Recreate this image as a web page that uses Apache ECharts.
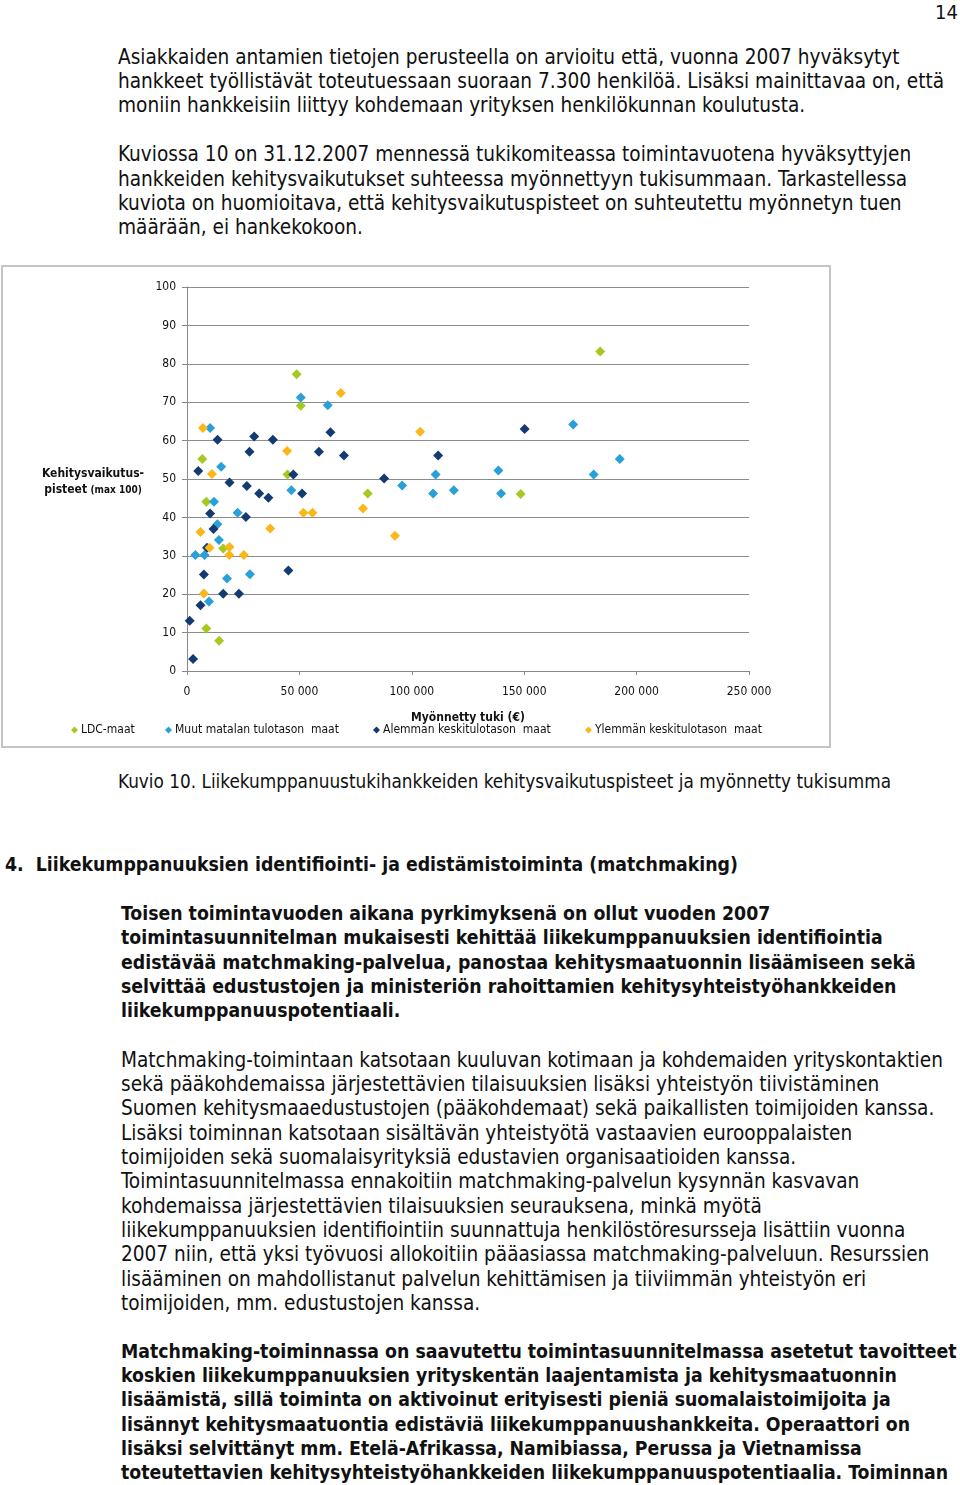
<!DOCTYPE html>
<html><head><meta charset="utf-8">
<script src="https://cdn.jsdelivr.net/npm/echarts@6/dist/echarts.min.js"></script>
<style>
html,body{margin:0;padding:0;background:#fff;}
body{width:960px;height:1485px;position:relative;overflow:hidden;font-family:"DejaVu Sans Condensed","DejaVu Sans",sans-serif;font-stretch:condensed;color:#111;}
.l{position:absolute;white-space:nowrap;font-size:20.6px;line-height:24px;}
.b{font-weight:bold;font-size:19.3px;}
.c{font-size:18.8px;}
#chart{position:absolute;left:1px;top:265px;width:830px;height:483px;box-sizing:border-box;border:2px solid #c4c4c4;}
</style></head><body>
<div class="l" style="left:935px;top:0px;font-size:20px;">14</div>

<div class="l" style="left:118px;top:45px;">Asiakkaiden antamien tietojen perusteella on arvioitu että, vuonna 2007 hyväksytyt</div>
<div class="l" style="left:118px;top:69px;">hankkeet työllistävät toteutuessaan suoraan 7.300 henkilöä. Lisäksi mainittavaa on, että</div>
<div class="l" style="left:118px;top:93px;">moniin hankkeisiin liittyy kohdemaan yrityksen henkilökunnan koulutusta.</div>

<div class="l" style="left:118px;top:142px;">Kuviossa 10 on 31.12.2007 mennessä tukikomiteassa toimintavuotena hyväksyttyjen</div>
<div class="l" style="left:118px;top:167px;">hankkeiden kehitysvaikutukset suhteessa myönnettyyn tukisummaan. Tarkastellessa</div>
<div class="l" style="left:118px;top:191px;">kuviota on huomioitava, että kehitysvaikutuspisteet on suhteutettu myönnetyn tuen</div>
<div class="l" style="left:118px;top:215px;">määrään, ei hankekokoon.</div>

<div id="chart"></div>

<div class="l c" style="left:118px;top:770px;">Kuvio 10. Liikekumppanuustukihankkeiden kehitysvaikutuspisteet ja myönnetty tukisumma</div>

<div class="l b" style="left:5px;top:853px;">4.&nbsp;&nbsp;Liikekumppanuuksien identifiointi- ja edistämistoiminta (matchmaking)</div>

<div class="l b" style="left:121px;top:902px;">Toisen toimintavuoden aikana pyrkimyksenä on ollut vuoden 2007</div>
<div class="l b" style="left:121px;top:926px;">toimintasuunnitelman mukaisesti kehittää liikekumppanuuksien identifiointia</div>
<div class="l b" style="left:121px;top:951px;">edistävää matchmaking-palvelua, panostaa kehitysmaatuonnin lisäämiseen sekä</div>
<div class="l b" style="left:121px;top:975px;">selvittää edustustojen ja ministeriön rahoittamien kehitysyhteistyöhankkeiden</div>
<div class="l b" style="left:121px;top:999px;">liikekumppanuuspotentiaali.</div>

<div class="l" style="left:121px;top:1048px;">Matchmaking-toimintaan katsotaan kuuluvan kotimaan ja kohdemaiden yrityskontaktien</div>
<div class="l" style="left:121px;top:1072px;">sekä pääkohdemaissa järjestettävien tilaisuuksien lisäksi yhteistyön tiivistäminen</div>
<div class="l" style="left:121px;top:1096px;">Suomen kehitysmaaedustustojen (pääkohdemaat) sekä paikallisten toimijoiden kanssa.</div>
<div class="l" style="left:121px;top:1121px;">Lisäksi toiminnan katsotaan sisältävän yhteistyötä vastaavien eurooppalaisten</div>
<div class="l" style="left:121px;top:1145px;">toimijoiden sekä suomalaisyrityksiä edustavien organisaatioiden kanssa.</div>
<div class="l" style="left:121px;top:1169px;">Toimintasuunnitelmassa ennakoitiin matchmaking-palvelun kysynnän kasvavan</div>
<div class="l" style="left:121px;top:1194px;">kohdemaissa järjestettävien tilaisuuksien seurauksena, minkä myötä</div>
<div class="l" style="left:121px;top:1218px;">liikekumppanuuksien identifiointiin suunnattuja henkilöstöresursseja lisättiin vuonna</div>
<div class="l" style="left:121px;top:1242px;">2007 niin, että yksi työvuosi allokoitiin pääasiassa matchmaking-palveluun. Resurssien</div>
<div class="l" style="left:121px;top:1267px;">lisääminen on mahdollistanut palvelun kehittämisen ja tiiviimmän yhteistyön eri</div>
<div class="l" style="left:121px;top:1291px;">toimijoiden, mm. edustustojen kanssa.</div>

<div class="l b" style="left:121px;top:1340px;">Matchmaking-toiminnassa on saavutettu toimintasuunnitelmassa asetetut tavoitteet</div>
<div class="l b" style="left:121px;top:1364px;">koskien liikekumppanuuksien yrityskentän laajentamista ja kehitysmaatuonnin</div>
<div class="l b" style="left:121px;top:1388px;">lisäämistä, sillä toiminta on aktivoinut erityisesti pieniä suomalaistoimijoita ja</div>
<div class="l b" style="left:121px;top:1413px;">lisännyt kehitysmaatuontia edistäviä liikekumppanuushankkeita. Operaattori on</div>
<div class="l b" style="left:121px;top:1437px;">lisäksi selvittänyt mm. Etelä-Afrikassa, Namibiassa, Perussa ja Vietnamissa</div>
<div class="l b" style="left:121px;top:1461px;">toteutettavien kehitysyhteistyöhankkeiden liikekumppanuuspotentiaalia. Toiminnan</div>

<script>
const seriesNames = ["LDC-maat", "Muut matalan tulotason  maat", "Alemman keskitulotason  maat", "Ylemmän keskitulotason  maat"];
const ldc = [[48800,77.3],[50600,69.1],[6800,55.2],[44700,51.2],[8600,44.1],[80400,46.2],[16100,31.9],[8600,11.1],[14300,7.9],[183800,83.2],[148400,46.1]];
const muutMatalan = [[50600,71.2],[62600,69.2],[10300,63.3],[15200,53.2],[46400,47.1],[12000,44.1],[22500,41.2],[13500,38.2],[14200,34.1],[3700,30.2],[7800,30.2],[17800,24.1],[28000,25.2],[9800,18.1],[171800,64.2],[192500,55.2],[110600,51.2],[138500,52.2],[180900,51.2],[95700,48.3],[109500,46.2],[118700,47.1],[139700,46.2]];
const alemman = [[13600,60.2],[29900,61.1],[38200,60.2],[63800,62.2],[27800,57.1],[58700,57.1],[69800,56.1],[5000,52.1],[47300,51.2],[18900,49.1],[26600,48.2],[32100,46.2],[36200,45.1],[51200,46.2],[10300,41.0],[26200,40.1],[11800,37.0],[8900,32.1],[7500,25.1],[45100,26.2],[16100,20.1],[23100,20.1],[6000,17.1],[1200,13.1],[2700,3.1],[150200,63.0],[111700,56.1],[87700,50.1]];
const ylemman = [[68400,72.4],[7100,63.3],[44500,57.3],[11100,51.3],[51800,41.2],[55800,41.2],[78300,42.3],[6000,36.2],[37000,37.1],[10000,32.1],[18900,32.3],[18800,30.2],[25300,30.2],[7500,20.2],[103700,62.3],[92500,35.2]];
const colors = ["#a6c823", "#2a9fd8", "#143a72", "#fbb61a"];
const xTitle = "Myönnetty tuki (€)";
const yTitle1 = "Kehitysvaikutus-";
const yTitle2 = "pisteet";
const yTitle3 = "(max 100)";

const FF = '"DejaVu Sans Condensed","DejaVu Sans",sans-serif';
const chart = echarts.init(document.getElementById('chart'), null, {renderer:'canvas'});
const datas = [ldc, muutMatalan, alemman, ylemman];
const legendLefts = [63, 157, 365, 577];
chart.setOption({
  animation:false,
  textStyle:{fontFamily:FF},
  grid:{left:184, top:20, width:562, height:384},
  xAxis:{type:'value', min:0, max:250000, interval:50000,
    name:xTitle, nameLocation:'middle', nameGap:41,
    nameTextStyle:{fontFamily:FF, fontWeight:'bold', fontSize:12, color:'#111'},
    axisLine:{show:true, lineStyle:{color:'#888', width:1}},
    axisTick:{show:true, length:4, lineStyle:{color:'#888'}},
    axisLabel:{margin:15, fontSize:12, color:'#111', fontFamily:FF,
      formatter:v=> v===0 ? '0' : (v/1000)+' 000'},
    splitLine:{show:false}},
  yAxis:{type:'value', min:0, max:100, interval:10,
    axisLine:{show:true, lineStyle:{color:'#888', width:1}},
    axisTick:{show:true, length:5, lineStyle:{color:'#888'}},
    axisLabel:{margin:11, fontSize:12, color:'#111', fontFamily:FF},
    splitLine:{show:true, lineStyle:{color:'#8c8c8c', width:1}}},
  graphic:[
    {type:'text', position:[90,207], style:{text:yTitle1, fontFamily:FF, fontWeight:'bold', fontSize:12, fill:'#111', textAlign:'center', textVerticalAlign:'middle'}},
    {type:'text', position:[90,223], style:{text:'{b|'+yTitle2+'} {s|'+yTitle3+'}', rich:{b:{fontFamily:FF, fontWeight:'bold', fontSize:12, fill:'#111'}, s:{fontFamily:FF, fontWeight:'bold', fontSize:10, fill:'#111'}}, textAlign:'center', textVerticalAlign:'middle'}}
  ],
  legend: seriesNames.map((n,i)=>({data:[n], left:legendLefts[i], top:452, itemWidth:7, itemHeight:7, itemGap:4,
    icon:'diamond', textStyle:{fontFamily:FF, fontSize:12, color:'#111', padding:[0,0,0,-2]}})),
  series: seriesNames.map((n,i)=>({name:n, type:'scatter', symbol:'diamond', symbolSize:10,
    itemStyle:{color:colors[i], opacity:1}, data:datas[i]}))
});
</script>
</body></html>
